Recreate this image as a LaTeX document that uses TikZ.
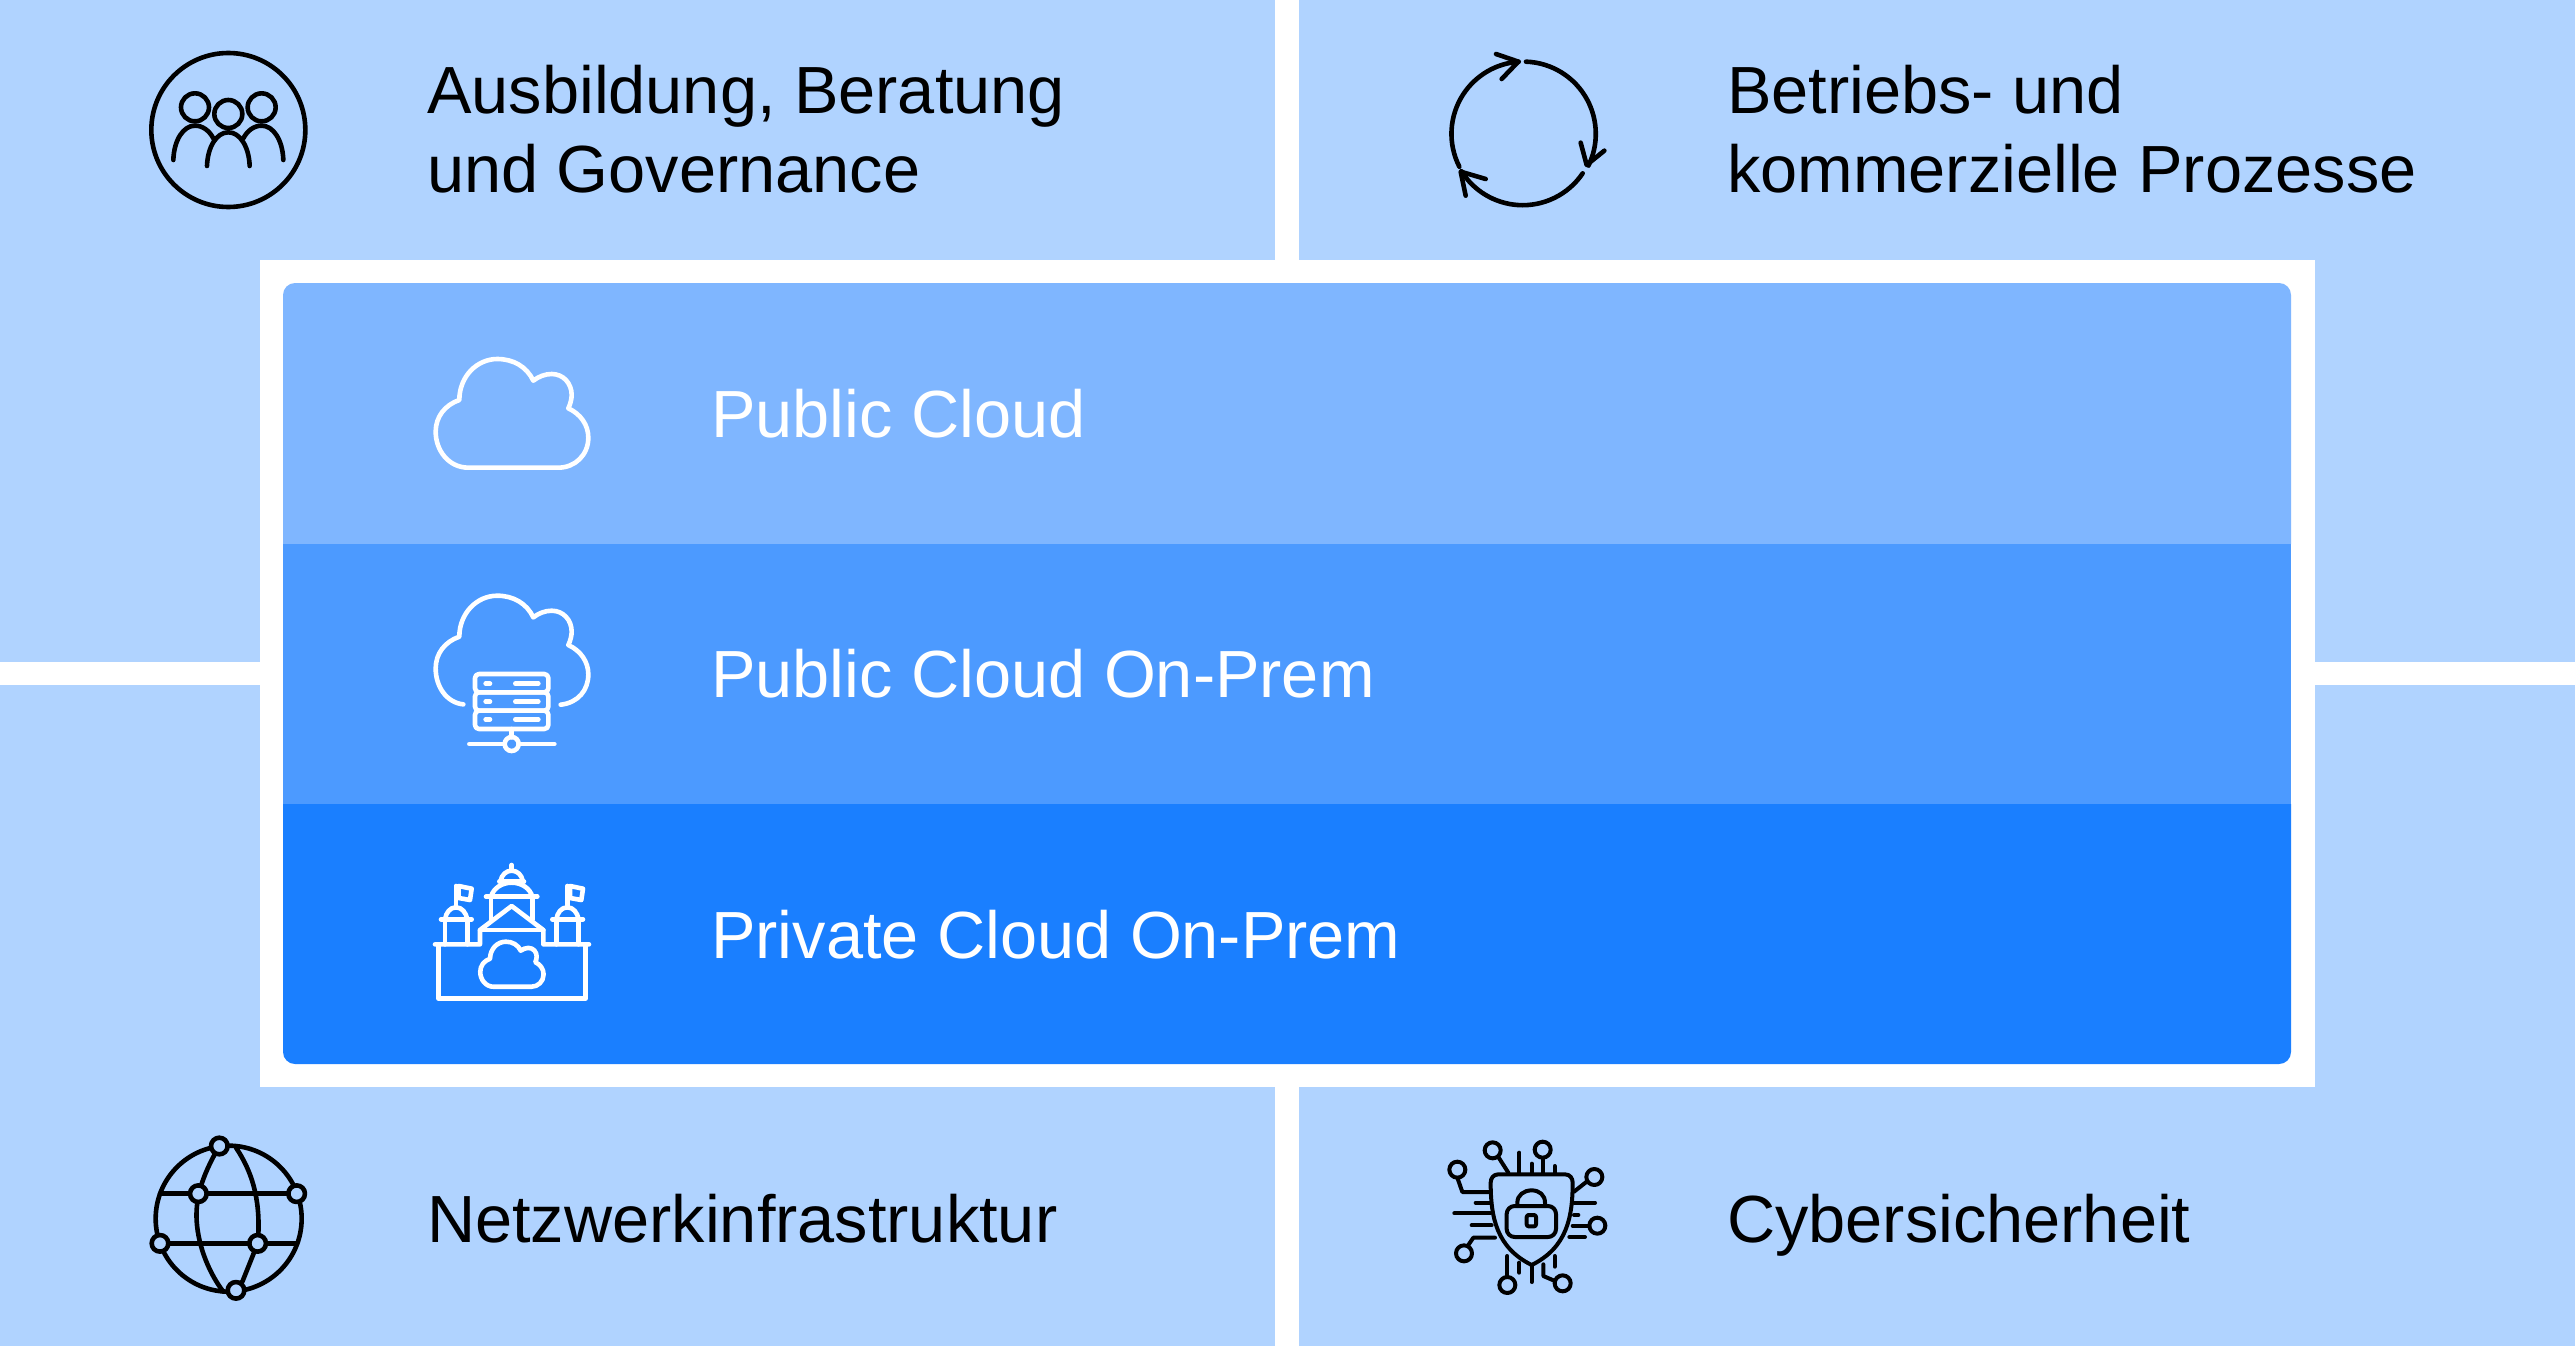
\documentclass[tikz,border=0pt]{standalone}
\usepackage{fontspec}
\setmainfont{Liberation Sans}
\definecolor{quad}{HTML}{B0D3FF}
\definecolor{bandA}{HTML}{7FB6FF}
\definecolor{bandB}{HTML}{4C9AFF}
\definecolor{bandC}{HTML}{1A7FFF}
\tikzset{
  quadbox/.style={fill=quad},
  lbl/.style={anchor=base west,inner sep=0pt,align=left,font=\fontsize{66.7pt}{79pt}\selectfont},
  ico/.style={line width=4.6pt,line cap=round,line join=round},
  thin ico/.style={line width=4pt,line cap=round,line join=round},
  zoomat/.style 2 args={x=0.33333pt,y=-0.33333pt,shift={(#1pt,-#2pt)}}
}
\def\cloudleft{(77,275) .. controls (77,230) and (105,195) .. (148,180) .. controls (148,110) and (200,57) .. (262,57) .. controls (310,57) and (350,80) .. (370,122) .. controls (385,110) and (405,102) .. (425,102) .. controls (460,102) and (485,130) .. (485,165) .. controls (485,178) and (481,192) .. (475,205) .. controls (512,222) and (535,255) .. (535,293)}
\begin{document}
\begin{tikzpicture}[x=1pt,y=-1pt]
\useasboundingbox (0,0) rectangle (2575,1346);
% quadrants
\fill[white] (0,0) rectangle (2575,1346);
\fill[quadbox] (0,0) rectangle (1275,662);
\fill[quadbox] (1299,0) rectangle (2575,662);
\fill[quadbox] (0,685) rectangle (1275,1346);
\fill[quadbox] (1299,685) rectangle (2575,1346);
% frame and bands
\fill[white] (260,260) rectangle (2315,1087);
\fill[bandA] (283,544) [rounded corners=12pt] -- (283,283) -- (2291,283) [sharp corners] -- (2291,544) -- cycle;
\fill[bandB] (283,544) rectangle (2291,804);
\fill[bandC] (283,804) [rounded corners=12pt] -- (283,1064) -- (2291,1064) [sharp corners] -- (2291,804) -- cycle;
% texts
\node[lbl] (tA) at (427,192.5) {Ausbildung, Beratung\\und Governance};
\node[lbl] (tB) at (1727,192.5) {Betriebs- und\\kommerzielle Prozesse};
\node[lbl] (tC) at (427,1242) {Netzwerkinfrastruktur};
\node[lbl] (tD) at (1727,1242) {Cybersicherheit};
\node[lbl,text=white] (b1) at (711,437.5) {Public Cloud};
\node[lbl,text=white] (b2) at (711,697.5) {Public Cloud On-Prem};
\node[lbl,text=white] (b3) at (711,958) {Private Cloud On-Prem};
% people icon
\begin{scope}[zoomat={120}{30},ico,black]
\draw (325,300) circle[radius=77pt];
\draw (225,232) circle[radius=14pt];
\draw (325,252) circle[radius=14pt];
\draw (425,232) circle[radius=14pt];
\draw (160,390) .. controls (162,330) and (190,287) .. (225,287) .. controls (248,287) and (268,302) .. (280,325);
\draw (261,408) .. controls (263,350) and (290,307) .. (325,307) .. controls (360,307) and (387,350) .. (389,408);
\draw (370,325) .. controls (382,302) and (402,287) .. (425,287) .. controls (460,287) and (488,330) .. (490,390);
\end{scope}
% cycle icon
\begin{scope}[zoomat={1420}{30},ico,black]
\draw (318,95) arc[start angle=88,end angle=-26,radius=72.3pt];
\draw (488,430) arc[start angle=-34,end angle=-148,radius=72.3pt];
\draw (118,410) arc[start angle=207,end angle=94,radius=72.3pt];
\draw (228,72) -- (295,95) -- (245,147);
\draw (482,338) -- (500,405) -- (553,362);
\draw (197,447) -- (122,425) -- (137,497);
\end{scope}
% public cloud icon
\begin{scope}[zoomat={410}{340},ico,white]
\draw (175,383) .. controls (115,383) and (77,330) .. \cloudleft .. controls (535,345) and (495,383) .. (445,383) -- cycle;
\end{scope}
% public cloud on-prem icon
\begin{scope}[zoomat={410}{576.7},ico,white]
\draw (160,383) .. controls (110,378) and (77,330) .. \cloudleft .. controls (535,340) and (505,378) .. (452,384);
\end{scope}
\begin{scope}[zoomat={410}{580},ico,white]
\draw[rounded corners=4pt] (195,282) rectangle (415,337);
\draw[rounded corners=4pt] (195,337) rectangle (415,392);
\draw[rounded corners=4pt] (195,392) rectangle (415,447);
\foreach \yy in {311,365,418} {
  \draw (227,\yy) -- (240,\yy);
  \draw (316,\yy) -- (385,\yy);
}
\draw (305,447) -- (305,472);
\draw (305,492) circle[radius=7pt];
\draw (178,492) -- (284,492);
\draw (326,492) -- (433,492);
\end{scope}
% castle icon
\begin{scope}[zoomat={410}{850},ico,white]
\draw (75,283) -- (210,283) -- (210,240) -- (305,168) -- (400,240) -- (400,283) -- (537,283);
\draw (85,283) -- (85,445) -- (527,445) -- (527,283);
\draw (210,240) -- (400,240);
\draw (243,140) -- (243,208);
\draw (367,140) -- (367,208);
\draw (228,140) -- (382,140);
\draw (243,140) .. controls (250,115) and (275,98) .. (305,98) .. controls (335,98) and (360,115) .. (367,140);
\draw (272,92) .. controls (275,75) and (288,62) .. (305,62) .. controls (322,62) and (335,75) .. (338,92);
\draw (268,95) -- (342,95);
\draw (305,45) -- (305,62);
\foreach \dx in {0,334} {
  \begin{scope}[shift={(\dx*0.33333pt,0pt)}]
  \draw (105,208) -- (105,283);
  \draw (172,208) -- (172,283);
  \draw (93,208) -- (185,208);
  \draw (105,208) .. controls (108,188) and (120,172) .. (138,172) .. controls (156,172) and (168,188) .. (172,208);
  \draw (138,172) -- (138,108);
  \draw (146,108) -- (185,116) -- (180,150) -- (146,144) -- cycle;
  \end{scope}
}
\end{scope}
\begin{scope}[x=0.1383pt,y=-0.1383pt,shift={(469.6pt,-933.8pt)},ico,white]
\draw (175,383) .. controls (115,383) and (77,330) .. \cloudleft .. controls (535,345) and (495,383) .. (445,383) -- cycle;
\end{scope}
% globe icon
\begin{scope}[zoomat={130}{1121},ico,black]
\draw (296,293) circle[radius=73pt];
\draw (90,218) -- (500,218);
\draw (90,367) -- (500,367);
\draw (268,75) .. controls (225,150) and (195,220) .. (200,300) .. controls (205,380) and (240,460) .. (280,512);
\draw (318,80) .. controls (365,150) and (390,230) .. (385,340) -- (383,367) -- (338,480) -- (318,508);
\foreach \gx/\gy in {268/75,205/218,500/218,90/367,383/367,318/508}
  \filldraw[fill=quad] (\gx,\gy) circle[radius=8.3pt];
\end{scope}
% shield icon
\begin{scope}[zoomat={1430}{1121},thin ico,black]
\draw (205,160) .. controls (190,160) and (182,172) .. (182,185) .. controls (182,290) and (200,380) .. (305,432) .. controls (410,380) and (428,290) .. (428,185) .. controls (428,172) and (420,160) .. (405,160) -- cycle;
\draw[rounded corners=8pt] (230,255) rectangle (378,348);
\draw (262,255) -- (262,245) .. controls (262,222) and (282,208) .. (305,208) .. controls (328,208) and (345,222) .. (345,245) -- (345,255);
\draw[rounded corners=2pt] (290,282) rectangle (318,316);
\foreach \cx/\cy in {188/88,338/86,493/168,502/314,82/146,102/397,232/492,398/487}
  \draw (\cx,\cy) circle[radius=8pt];
\draw (205,108) -- (235,155);
\draw (268,95) -- (268,155);
\draw (305,128) -- (305,155);
\draw (338,112) -- (338,155);
\draw (374,135) -- (374,155);
\draw (470,182) -- (432,212);
\draw (432,245) -- (495,245);
\draw (432,282) -- (445,282);
\draw (478,314) -- (428,314);
\draw (418,348) -- (465,348);
\draw (82,170) -- (97,213) -- (175,213);
\draw (137,245) -- (178,245);
\draw (73,277) -- (180,277);
\draw (125,313) -- (185,313);
\draw (195,350) -- (130,350) -- (115,372);
\draw (232,468) -- (232,405);
\draw (268,425) -- (268,455);
\draw (305,435) -- (305,483);
\draw (374,405) -- (374,437);
\draw (340,430) -- (340,465) -- (375,480);
\end{scope}
\end{tikzpicture}
\end{document}
